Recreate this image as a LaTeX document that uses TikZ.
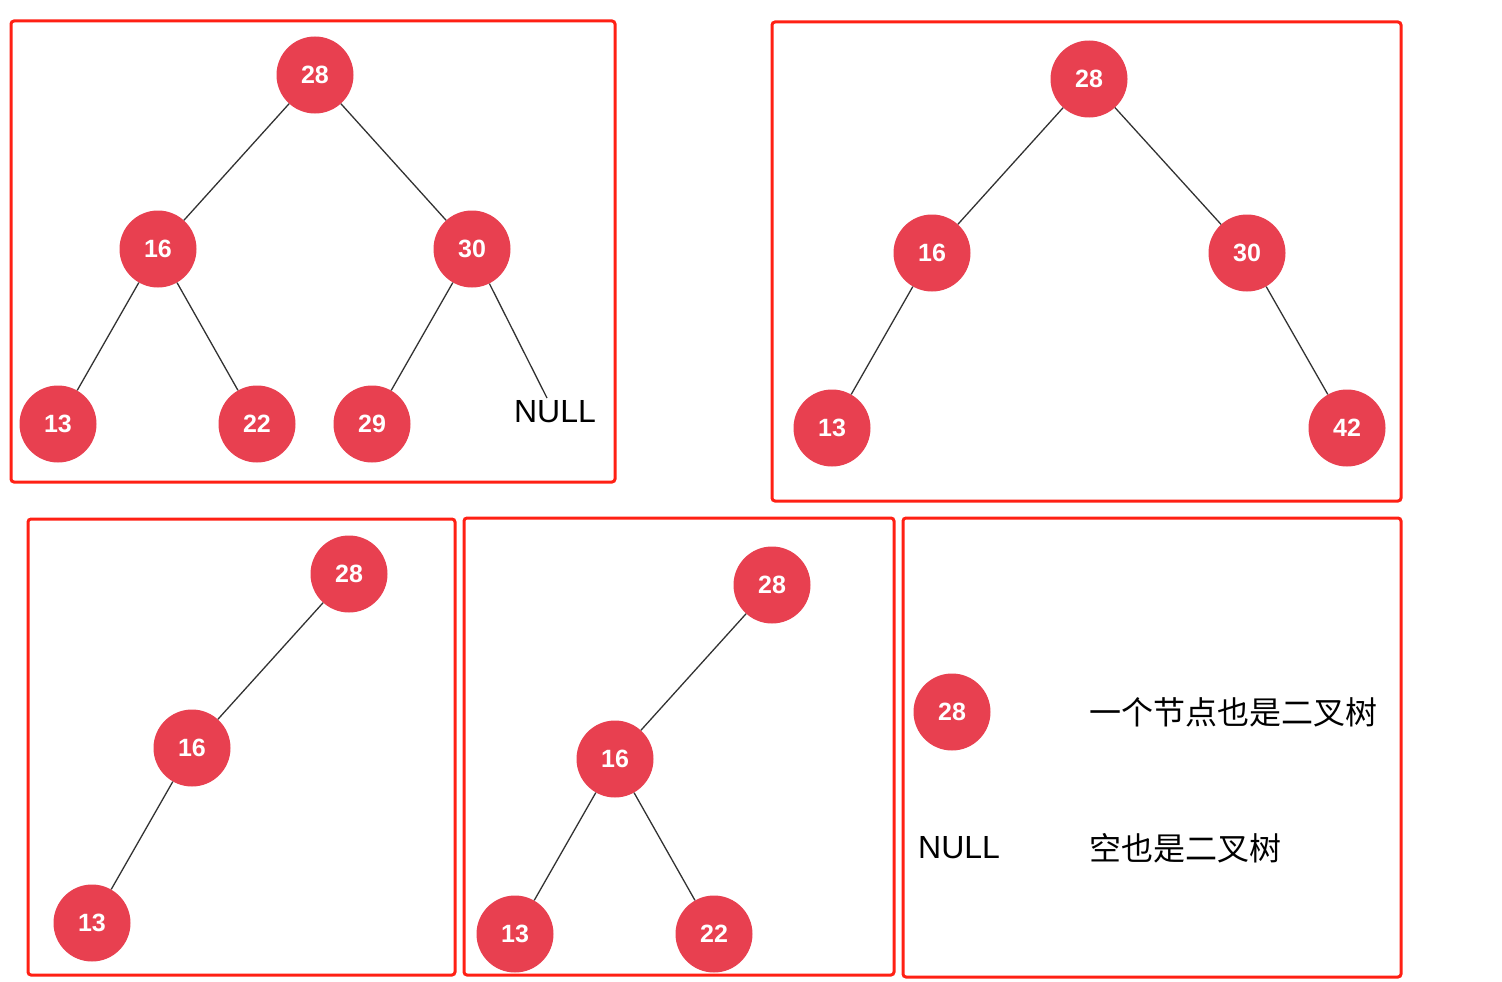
\documentclass[tikz,border=0pt]{standalone}
\usepackage{fontspec}
\setmainfont{Liberation Sans}
\newfontfamily\cjk{Noto Sans CJK SC}
\definecolor{nodered}{RGB}{232,64,80}
\definecolor{boxred}{RGB}{255,32,20}
\definecolor{edgegray}{RGB}{50,50,50}
\begin{document}
\begin{tikzpicture}[x=1pt,y=-1pt,
  tn/.style={circle,fill=nodered,minimum size=77pt,inner sep=0pt,text=white,font=\fontsize{25}{25}\selectfont\bfseries},
  frame/.style={draw=boxred,line width=3pt,rounded corners=3pt},
  edge/.style={draw=edgegray,line width=1.3pt},
  lbl/.style={inner sep=0pt,font=\fontsize{32}{32}\selectfont},
  cjklbl/.style={inner sep=0pt,anchor=west,font=\cjk\fontsize{32}{32}\selectfont}]
\useasboundingbox (0,0) rectangle (1502,982);
% frames
\draw[frame] (11,21) rectangle (615,482);
\draw[frame] (772,22) rectangle (1401,501);
\draw[frame] (28,519) rectangle (455,975);
\draw[frame] (464,518) rectangle (894,975);
\draw[frame] (903,518) rectangle (1401,977);
% tree 1
\node[tn] (a28) at (315,75) {28};
\node[tn] (a16) at (158,249) {16};
\node[tn] (a30) at (472,249) {30};
\node[tn] (a13) at (58,424) {13};
\node[tn] (a22) at (257,424) {22};
\node[tn] (a29) at (372,424) {29};
\node[lbl] (anull) at (555,412) {NULL};
\coordinate (anullend) at (547,398);
\draw[edge] (a28) -- (a16);
\draw[edge] (a28) -- (a30);
\draw[edge] (a16) -- (a13);
\draw[edge] (a16) -- (a22);
\draw[edge] (a30) -- (a29);
\draw[edge] (a30) -- (anullend);
% tree 2
\node[tn] (b28) at (1089,79) {28};
\node[tn] (b16) at (932,253) {16};
\node[tn] (b30) at (1247,253) {30};
\node[tn] (b13) at (832,428) {13};
\node[tn] (b42) at (1347,428) {42};
\draw[edge] (b28) -- (b16);
\draw[edge] (b28) -- (b30);
\draw[edge] (b16) -- (b13);
\draw[edge] (b30) -- (b42);
% tree 3
\node[tn] (c28) at (349,574) {28};
\node[tn] (c16) at (192,748) {16};
\node[tn] (c13) at (92,923) {13};
\draw[edge] (c28) -- (c16);
\draw[edge] (c16) -- (c13);
% tree 4
\node[tn] (d28) at (772,585) {28};
\node[tn] (d16) at (615,759) {16};
\node[tn] (d13) at (515,934) {13};
\node[tn] (d22) at (714,934) {22};
\draw[edge] (d28) -- (d16);
\draw[edge] (d16) -- (d13);
\draw[edge] (d16) -- (d22);
% box 5
\node[tn] (e28) at (952,712) {28};
\node[cjklbl] (t1) at (1089,712) {一个节点也是二叉树};
\node[lbl,anchor=west] (enull) at (918,848) {NULL};
\node[cjklbl] (t2) at (1089,848) {空也是二叉树};
\end{tikzpicture}
\end{document}
